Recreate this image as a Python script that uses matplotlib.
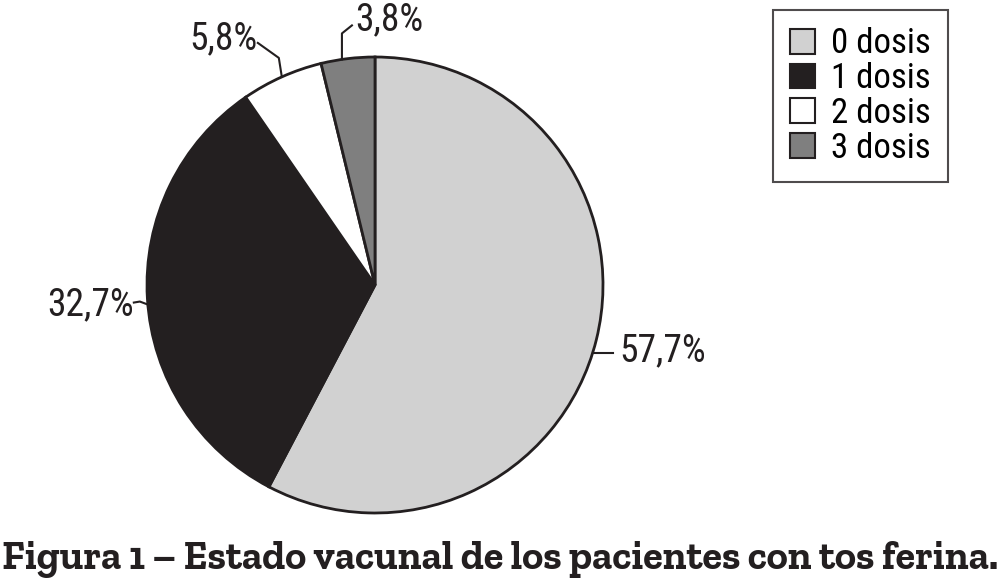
import numpy as np
import matplotlib.pyplot as plt
from matplotlib import font_manager

# data
categories = ['0 dosis', '1 dosis', '2 dosis', '3 dosis']
values = [57.7, 32.7, 5.8, 3.8]
labels = ['57,7%', '32,7%', '5,8%', '3,8%']
colors = ['#d1d1d1', '#231f20', '#ffffff', '#7f7f7f']
caption = 'Figura 1 – Estado vacunal de los pacientes con tos ferina.'

fonts = font_manager.fontManager.ttflist


def pick(prefs, default, bold=False):
    for p in prefs:
        for f in fonts:
            if f.name == p and (not bold or f.weight in (700, 'bold')):
                return p
    return default


cond = pick(['Roboto Condensed', 'Archivo Narrow', 'Fira Sans Condensed'], 'DejaVu Sans')
serif = pick(['Bitter', 'Zilla Slab', 'Roboto Slab', 'Noto Serif'], 'DejaVu Serif', bold=True)

fig = plt.figure(figsize=(10.02, 5.85), dpi=100)
ax = fig.add_axes([0, 0, 1, 1])

cx, cy, r = 375, 300, 228
wedges, _ = ax.pie(values, colors=colors, startangle=90, counterclock=False,
                   center=(cx, cy), radius=r, frame=True,
                   wedgeprops=dict(edgecolor='#231f20', linewidth=2))
ax.set_xlim(0, 1002)
ax.set_ylim(0, 585)
ax.set_aspect('equal')
ax.axis('off')

# leader lines: angle shift, elbow offset, end offset, text offset, ha
leaders = [
    [-3.5, (0, 0), (20, 0), (27, 2), 'left'],
    [1.5, (-8, 3), (-14, 2), (-14, 0), 'right'],
    [0, (-3, 19), (-24, 34), (-24, 38), 'right'],
    [1.5, (0, 26), (10, 34), (13, 40), 'left'],
]
for w, lab, (da, e1, e2, t, ha) in zip(wedges, labels, leaders):
    ang = np.deg2rad((w.theta1 + w.theta2) / 2 + da)
    x0, y0 = cx + r * np.cos(ang), cy + r * np.sin(ang)
    ax.plot([x0, x0 + e1[0], x0 + e2[0]], [y0, y0 + e1[1], y0 + e2[1]],
            color='#231f20', lw=1.5)
    ax.text(x0 + t[0], y0 + t[1], lab, ha=ha, va='center',
            fontsize=27, family=cond, color='#231f20')

leg = ax.legend(wedges, categories, loc='upper left',
                bbox_to_anchor=(773 / 1002, 1 - 10 / 585),
                prop={'family': cond, 'size': 25}, frameon=True, fancybox=False,
                handlelength=0.72, handleheight=0.72, handletextpad=0.45,
                labelspacing=0.05, borderpad=0.5, borderaxespad=0)
leg.get_frame().set_edgecolor('#231f20')
leg.get_frame().set_linewidth(1.5)
for h in leg.legend_handles:
    h.set_linewidth(1.5)

# caption scaled to span the figure width
cap = fig.text(2 / 1002, 1 - 560 / 585, caption, ha='left', va='center',
               fontsize=20, fontweight='bold', family=serif, color='#231f20')
fig.canvas.draw()
wpx = cap.get_window_extent().width
cap.set_fontsize(20 * 996 / wpx)

plt.savefig('out.png', dpi=100)
